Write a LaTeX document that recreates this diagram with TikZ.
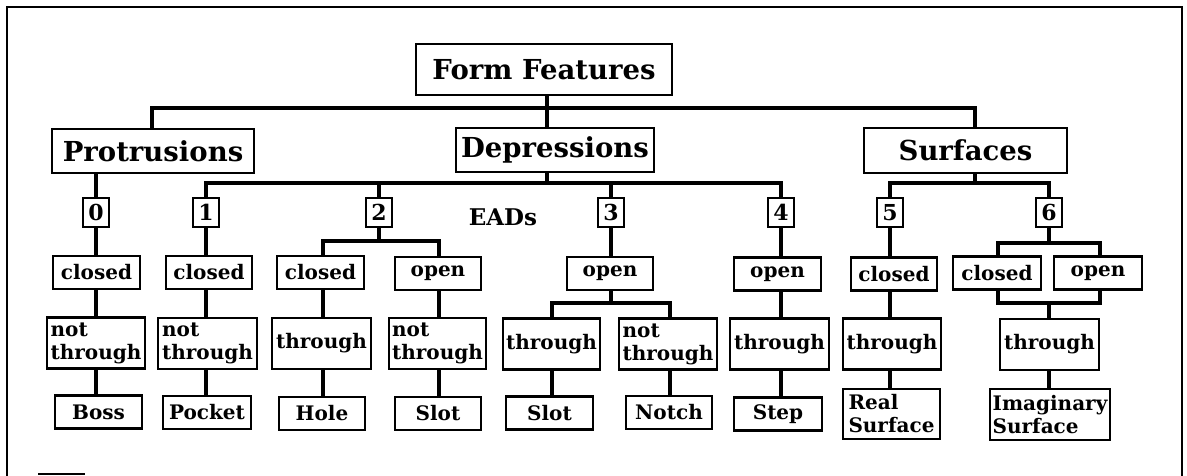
\documentclass[tikz,border=0pt]{standalone}
\usepackage{fontspec}
\setmainfont{DejaVu Serif}
\pgfdeclarelayer{background}
\pgfsetlayers{background,main}
\begin{document}
\begin{tikzpicture}[x=1pt,y=-1pt,
  box/.style={draw, fill=white, line width=2.4pt, inner sep=0pt, align=center,
    font=\bfseries\fontsize{20}{23}\selectfont},
  topbox/.style={box, font=\bfseries\fontsize{27.5}{31}\selectfont},
  eadbox/.style={box, minimum width=26pt, minimum height=29pt,
    font=\bfseries\fontsize{22}{24}\selectfont},
  lvl/.style={box, minimum height=33pt},
  thr/.style={box, minimum height=51pt},
  leaf/.style={box, minimum height=33pt},
  conn/.style={line width=3.2pt},
  frame/.style={line width=2.8pt}]
\useasboundingbox (0,0) rectangle (1187,475);

% top levels
\node[topbox, minimum width=256pt, minimum height=51pt] (ff) at (544,69.5) {Form Features};
\node[topbox, minimum width=202pt, minimum height=44pt] (prot) at (153,151) {Protrusions};
\node[topbox, minimum width=198pt, minimum height=44pt] (dep) at (555,150) {Depressions};
\node[topbox, minimum width=203pt, minimum height=45pt] (surf) at (965.5,150.5) {Surfaces};

% EAD boxes
\node[eadbox] (e0) at (96,212.5) {0};
\node[eadbox] (e1) at (206,212.5) {1};
\node[eadbox] (e2) at (379,212.5) {2};
\node[eadbox] (e3) at (611,212.5) {3};
\node[eadbox] (e4) at (781,212.5) {4};
\node[eadbox] (e5) at (890,212.5) {5};
\node[eadbox] (e6) at (1049,212.5) {6};
\node[inner sep=0pt, font=\bfseries\fontsize{23}{26}\selectfont] (eads) at (503,217) {EADs};

% closed / open
\node[lvl, minimum width=87pt] (c0) at (96.5,272.5) {closed};
\node[lvl, minimum width=86pt] (c1) at (209,272.5) {closed};
\node[lvl, minimum width=87pt] (c2) at (320.5,272.5) {closed};
\node[lvl, minimum width=86pt] (o2) at (438,273.5) {open};
\node[lvl, minimum width=86pt] (o3) at (610,273.5) {open};
\node[lvl, minimum width=87pt] (o4) at (777.5,274) {open};
\node[lvl, minimum width=86pt] (c5) at (894,274) {closed};
\node[lvl, minimum width=88pt] (c6) at (997,273) {closed};
\node[lvl, minimum width=88pt] (o6) at (1098,273) {open};

% through / not through
\node[thr, minimum width=98pt, align=left] (t0) at (96,343) {not\\through};
\node[thr, minimum width=99pt, align=left] (t1) at (207.5,343.5) {not\\through};
\node[thr, minimum width=99pt] (t2) at (321.5,343.5) {through};
\node[thr, minimum width=97pt, align=left] (u2) at (437.5,343.5) {not\\through};
\node[thr, minimum width=97pt] (t3) at (551.5,344) {through};
\node[thr, minimum width=98pt, align=left] (u3) at (668,344) {not\\through};
\node[thr, minimum width=99pt] (t4) at (779.5,344) {through};
\node[thr, minimum width=98pt] (t5) at (892,344) {through};
\node[thr, minimum width=99pt] (t6) at (1049.5,344.5) {through};

% resulting features
\node[leaf, minimum width=87pt] (boss) at (98.5,412) {Boss};
\node[leaf, minimum width=88pt] (pocket) at (207,412.5) {Pocket};
\node[leaf, minimum width=86pt] (hole) at (322,413.5) {Hole};
\node[leaf, minimum width=86pt] (slotA) at (438,413.5) {Slot};
\node[leaf, minimum width=87pt] (slotB) at (549.5,413) {Slot};
\node[leaf, minimum width=86pt] (notch) at (669,412.5) {Notch};
\node[leaf, minimum width=88pt] (stepbox) at (778,414) {Step};
\node[box, minimum width=97pt, minimum height=50pt, align=left] (real) at (891.5,414) {Real\\Surface};
\node[box, minimum width=120pt, minimum height=51pt, align=left] (imag) at (1050,414.5) {Imaginary\\Surface};

% junction points
\coordinate (jP) at (152,108);
\coordinate (jS) at (975,108);
\coordinate (xff) at (547,108);
\coordinate (dS) at (547,183);
\coordinate (sS) at (975,183);
\coordinate (b2) at (379,241);
\coordinate (x2a) at (323,241);
\coordinate (x2b) at (439,241);
\coordinate (b3) at (611,303);
\coordinate (x3a) at (552,303);
\coordinate (x3b) at (670,303);
\coordinate (g6L) at (998,243);
\coordinate (h6R) at (1100,303);

\begin{pgfonlayer}{background}
% first level
\draw[conn] (prot.north -| jP) -- (jP) -- (jS) -- (surf.north -| jS);
\draw[conn] (ff.south -| xff) -- (dep.north -| xff);
% protrusions
\draw[conn] (prot.south -| e0) -- (e0.north);
\draw[conn] (e0.south) -- (c0.north -| e0);
\draw[conn] (c0.south -| e0) -- (t0.north -| e0);
\draw[conn] (t0.south -| e0) -- (boss.north -| e0);
% depressions
\draw[conn] (dep.south -| dS) -- (dS);
\draw[conn] (e1.north) |- (dS) -| (e4.north);
\draw[conn] (e2.north) -- (e2.north |- dS);
\draw[conn] (e3.north) -- (e3.north |- dS);
% EAD 1
\draw[conn] (e1.south) -- (c1.north -| e1);
\draw[conn] (c1.south -| e1) -- (t1.north -| e1);
\draw[conn] (t1.south -| e1) -- (pocket.north -| e1);
% EAD 2
\draw[conn] (e2.south) -- (b2);
\draw[conn] (c2.north -| x2a) -- (x2a) -- (x2b) -- (o2.north -| x2b);
\draw[conn] (c2.south -| x2a) -- (t2.north -| x2a);
\draw[conn] (t2.south -| x2a) -- (hole.north -| x2a);
\draw[conn] (o2.south -| x2b) -- (u2.north -| x2b);
\draw[conn] (u2.south -| x2b) -- (slotA.north -| x2b);
% EAD 3
\draw[conn] (e3.south) -- (o3.north -| e3);
\draw[conn] (o3.south -| e3) -- (b3);
\draw[conn] (t3.north -| x3a) -- (x3a) -- (x3b) -- (u3.north -| x3b);
\draw[conn] (t3.south -| x3a) -- (slotB.north -| x3a);
\draw[conn] (u3.south -| x3b) -- (notch.north -| x3b);
% EAD 4
\draw[conn] (e4.south) -- (o4.north -| e4);
\draw[conn] (o4.south -| e4) -- (t4.north -| e4);
\draw[conn] (t4.south -| e4) -- (stepbox.north -| e4);
% surfaces
\draw[conn] (surf.south -| sS) -- (sS);
\draw[conn] (e5.north) |- (sS) -| (e6.north);
\draw[conn] (e5.south) -- (c5.north -| e5);
\draw[conn] (c5.south -| e5) -- (t5.north -| e5);
\draw[conn] (t5.south -| e5) -- (real.north -| e5);
% EAD 6
\draw[conn] (e6.south) -- (e6.south |- g6L);
\draw[conn] (g6L) rectangle (h6R);
\draw[conn] (h6R -| e6) -- (t6.north -| e6);
\draw[conn] (t6.south -| e6) -- (imag.north -| e6);
\end{pgfonlayer}

% border
\draw[frame] (7,476) -- (7,7) -- (1182,7) -- (1182,476);
\draw[frame] (38,474) -- (85,474);
\end{tikzpicture}
\end{document}
